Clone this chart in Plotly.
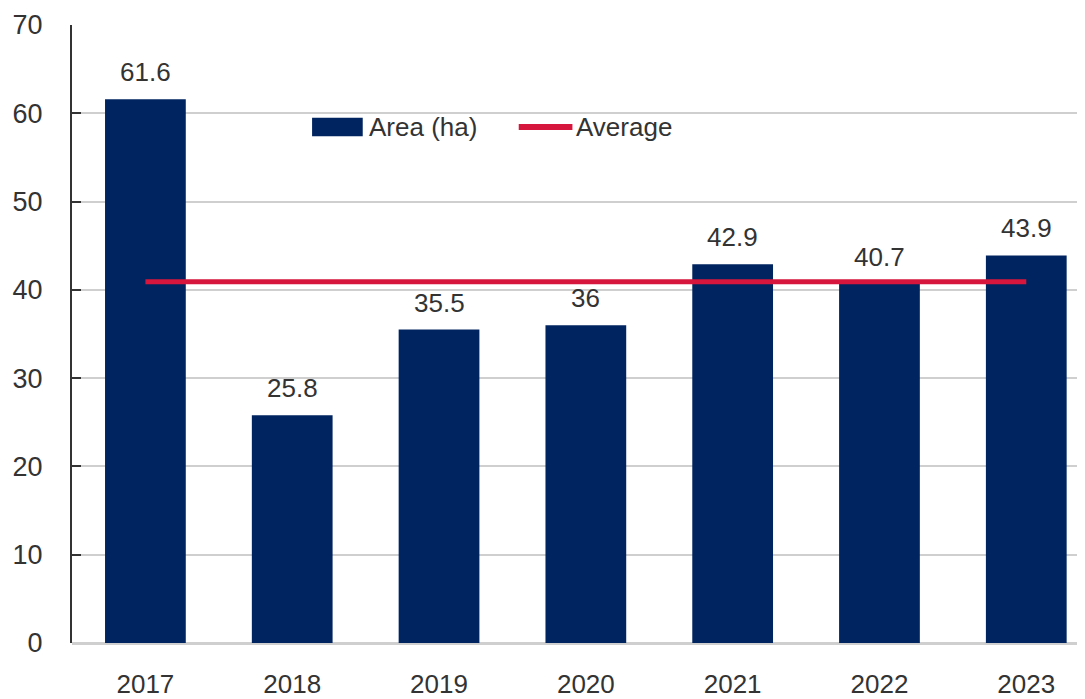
import plotly.graph_objects as go

years = ["2017", "2018", "2019", "2020", "2021", "2022", "2023"]
area = [61.6, 25.8, 35.5, 36, 42.9, 40.7, 43.9]
area_labels = ["61.6", "25.8", "35.5", "36", "42.9", "40.7", "43.9"]
average = [round(sum(area) / len(area), 2)] * len(years)
y_ticks = [0, 10, 20, 30, 40, 50, 60, 70]

NAVY = "#00245F"
RED = "#D6163C"
TXT = "#333333"
FONT = "Liberation Sans, Arial, sans-serif"

fig = go.Figure()
fig.add_trace(go.Bar(
    x=years, y=area, name="Area (ha)", marker=dict(color=NAVY, line=dict(width=0)),
    width=0.55, showlegend=False,
))
fig.add_trace(go.Scatter(
    x=years, y=average, name="Average", mode="lines",
    line=dict(color=RED, width=5), showlegend=False,
))

for i, (v, lab) in enumerate(zip(area, area_labels)):
    fig.add_annotation(x=i, y=v, xref="x", yref="y", text=lab, showarrow=False,
                       yanchor="bottom", yshift=10,
                       font=dict(size=26, color=TXT, family=FONT))

# manual legend (paper coordinates)
fig.add_shape(type="rect", xref="paper", yref="paper", x0=0.237, x1=0.287,
              y0=0.820, y1=0.850, fillcolor=NAVY, line=dict(width=0))
fig.add_annotation(xref="paper", yref="paper", x=0.291, y=0.835, text="Area (ha)",
                   showarrow=False, xanchor="left", yanchor="middle",
                   font=dict(size=26, color=TXT, family=FONT))
fig.add_shape(type="line", xref="paper", yref="paper", x0=0.441, x1=0.494,
              y0=0.835, y1=0.835, line=dict(color=RED, width=6))
fig.add_annotation(xref="paper", yref="paper", x=0.496, y=0.835, text="Average",
                   showarrow=False, xanchor="left", yanchor="middle",
                   font=dict(size=26, color=TXT, family=FONT))

fig.update_layout(
    width=1077, height=691,
    margin=dict(l=64, r=0, t=17, b=56),
    paper_bgcolor="white", plot_bgcolor="white",
    font=dict(family=FONT, color=TXT, size=26),
    showlegend=False,
)
fig.update_xaxes(
    type="category", range=[-0.5, 6.4], showgrid=False, showline=False,
    ticks="", tickfont=dict(size=26, color=TXT), ticklabelstandoff=23,
    automargin=False,
)
fig.update_yaxes(
    range=[0, 70], tickvals=y_ticks, showgrid=True, gridcolor="#CFCFCF", gridwidth=2,
    showline=True, linecolor=TXT, linewidth=2, ticks="inside", ticklen=9,
    tickcolor=TXT, tickwidth=2, zeroline=True, zerolinecolor="#CFCFCF", zerolinewidth=3,
    tickfont=dict(size=27, color=TXT), ticklabelstandoff=22, automargin=False,
)

fig.write_html("out.html")
